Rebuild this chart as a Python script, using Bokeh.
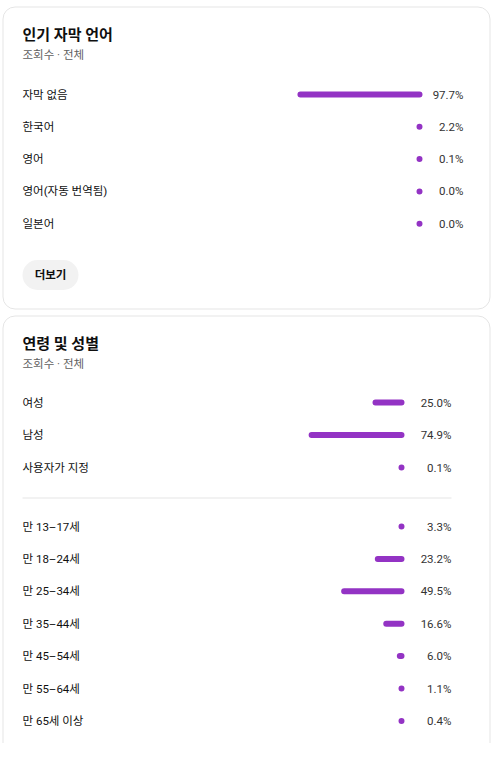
from bokeh.plotting import figure
from bokeh.models import Range1d, ColumnDataSource
from bokeh.core.properties import value
from bokeh.embed import file_html
from bokeh.resources import INLINE

# ---- data ----
lang_labels = ["자막 없음", "한국어", "영어", "영어(자동 번역됨)", "일본어"]
lang_pct = [97.7, 2.2, 0.1, 0.0, 0.0]

gender_labels = ["여성", "남성", "사용자가 지정"]
gender_pct = [25.0, 74.9, 0.1]

age_labels = ["만 13–17세", "만 18–24세", "만 25–34세", "만 35–44세",
              "만 45–54세", "만 55–64세", "만 65세 이상"]
age_pct = [3.3, 23.2, 49.5, 16.6, 6.0, 1.1, 0.4]

# ---- style ----
FONT = value("Roboto, 'Noto Sans CJK KR', sans-serif")
PURPLE = "#9333c4"
BORDER = "#e5e5e5"
W, H = 495, 743
PX_PER_PCT = 1.28
MIN_W = 6

p = figure(width=W, height=H, x_range=Range1d(0, W), y_range=Range1d(H, 0),
           output_backend="svg", toolbar_location=None, min_border=0,
           x_axis_location=None, y_axis_location=None,
           outline_line_color=None)
p.grid.visible = False
p.background_fill_color = "white"
p.border_fill_color = "white"

# cards
p.quad(left=[2.5, 2.5], right=[489.5, 489.5], top=[6.5, 315.5], bottom=[308.5, 800],
       fill_color="white", line_color=BORDER, line_width=1, border_radius=12)


def header(title, y):
    p.text(x=[22], y=[y], text=[title], text_font=FONT, text_font_size="15px",
           text_font_style="bold", text_color="#0f0f0f",
           text_align="left", text_baseline="middle")
    p.text(x=[22], y=[y + 20], text=["조회수 · 전체"], text_font=FONT,
           text_font_size="11.5px", text_color="#606060",
           text_align="left", text_baseline="middle")


def rows(labels, pct, y0, step, bar_right, val_right):
    ys = [y0 + i * step for i in range(len(labels))]
    widths = [max(v * PX_PER_PCT, MIN_W) for v in pct]
    src = ColumnDataSource(dict(
        y=ys, label=labels, val=[f"{v:.1f}%" for v in pct],
        left=[bar_right - w for w in widths], right=[bar_right] * len(labels)))
    p.hbar(y="y", left="left", right="right", height=6, source=src,
           fill_color=PURPLE, line_color=None, border_radius=3)
    p.text(x=22, y="y", text="label", source=src, text_font=FONT,
           text_font_size="11.5px", text_color="#0f0f0f",
           text_align="left", text_baseline="middle")
    p.text(x=val_right, y="y", text="val", source=src, text_font=FONT,
           text_font_size="11.5px", text_color="#333333",
           text_align="right", text_baseline="middle")


# card 1
header("인기 자막 언어", 34)
rows(lang_labels, lang_pct, 94, 32.3, 422, 463)
p.quad(left=[22], right=[78], top=[259.5], bottom=[289.5], fill_color="#f2f2f2",
       line_color=None, border_radius=15)
p.text(x=[50], y=[274], text=["더보기"], text_font=FONT, text_font_size="11.5px",
       text_font_style="bold", text_color="#0f0f0f",
       text_align="center", text_baseline="middle")

# card 2
header("연령 및 성별", 343)
rows(gender_labels, gender_pct, 402, 32.5, 404, 451)
p.segment(x0=[22], x1=[451], y0=[497.5], y1=[497.5], line_color=BORDER, line_width=1)
rows(age_labels, age_pct, 526, 32.4, 404, 451)

open("out.html", "w").write(file_html(p, INLINE))
